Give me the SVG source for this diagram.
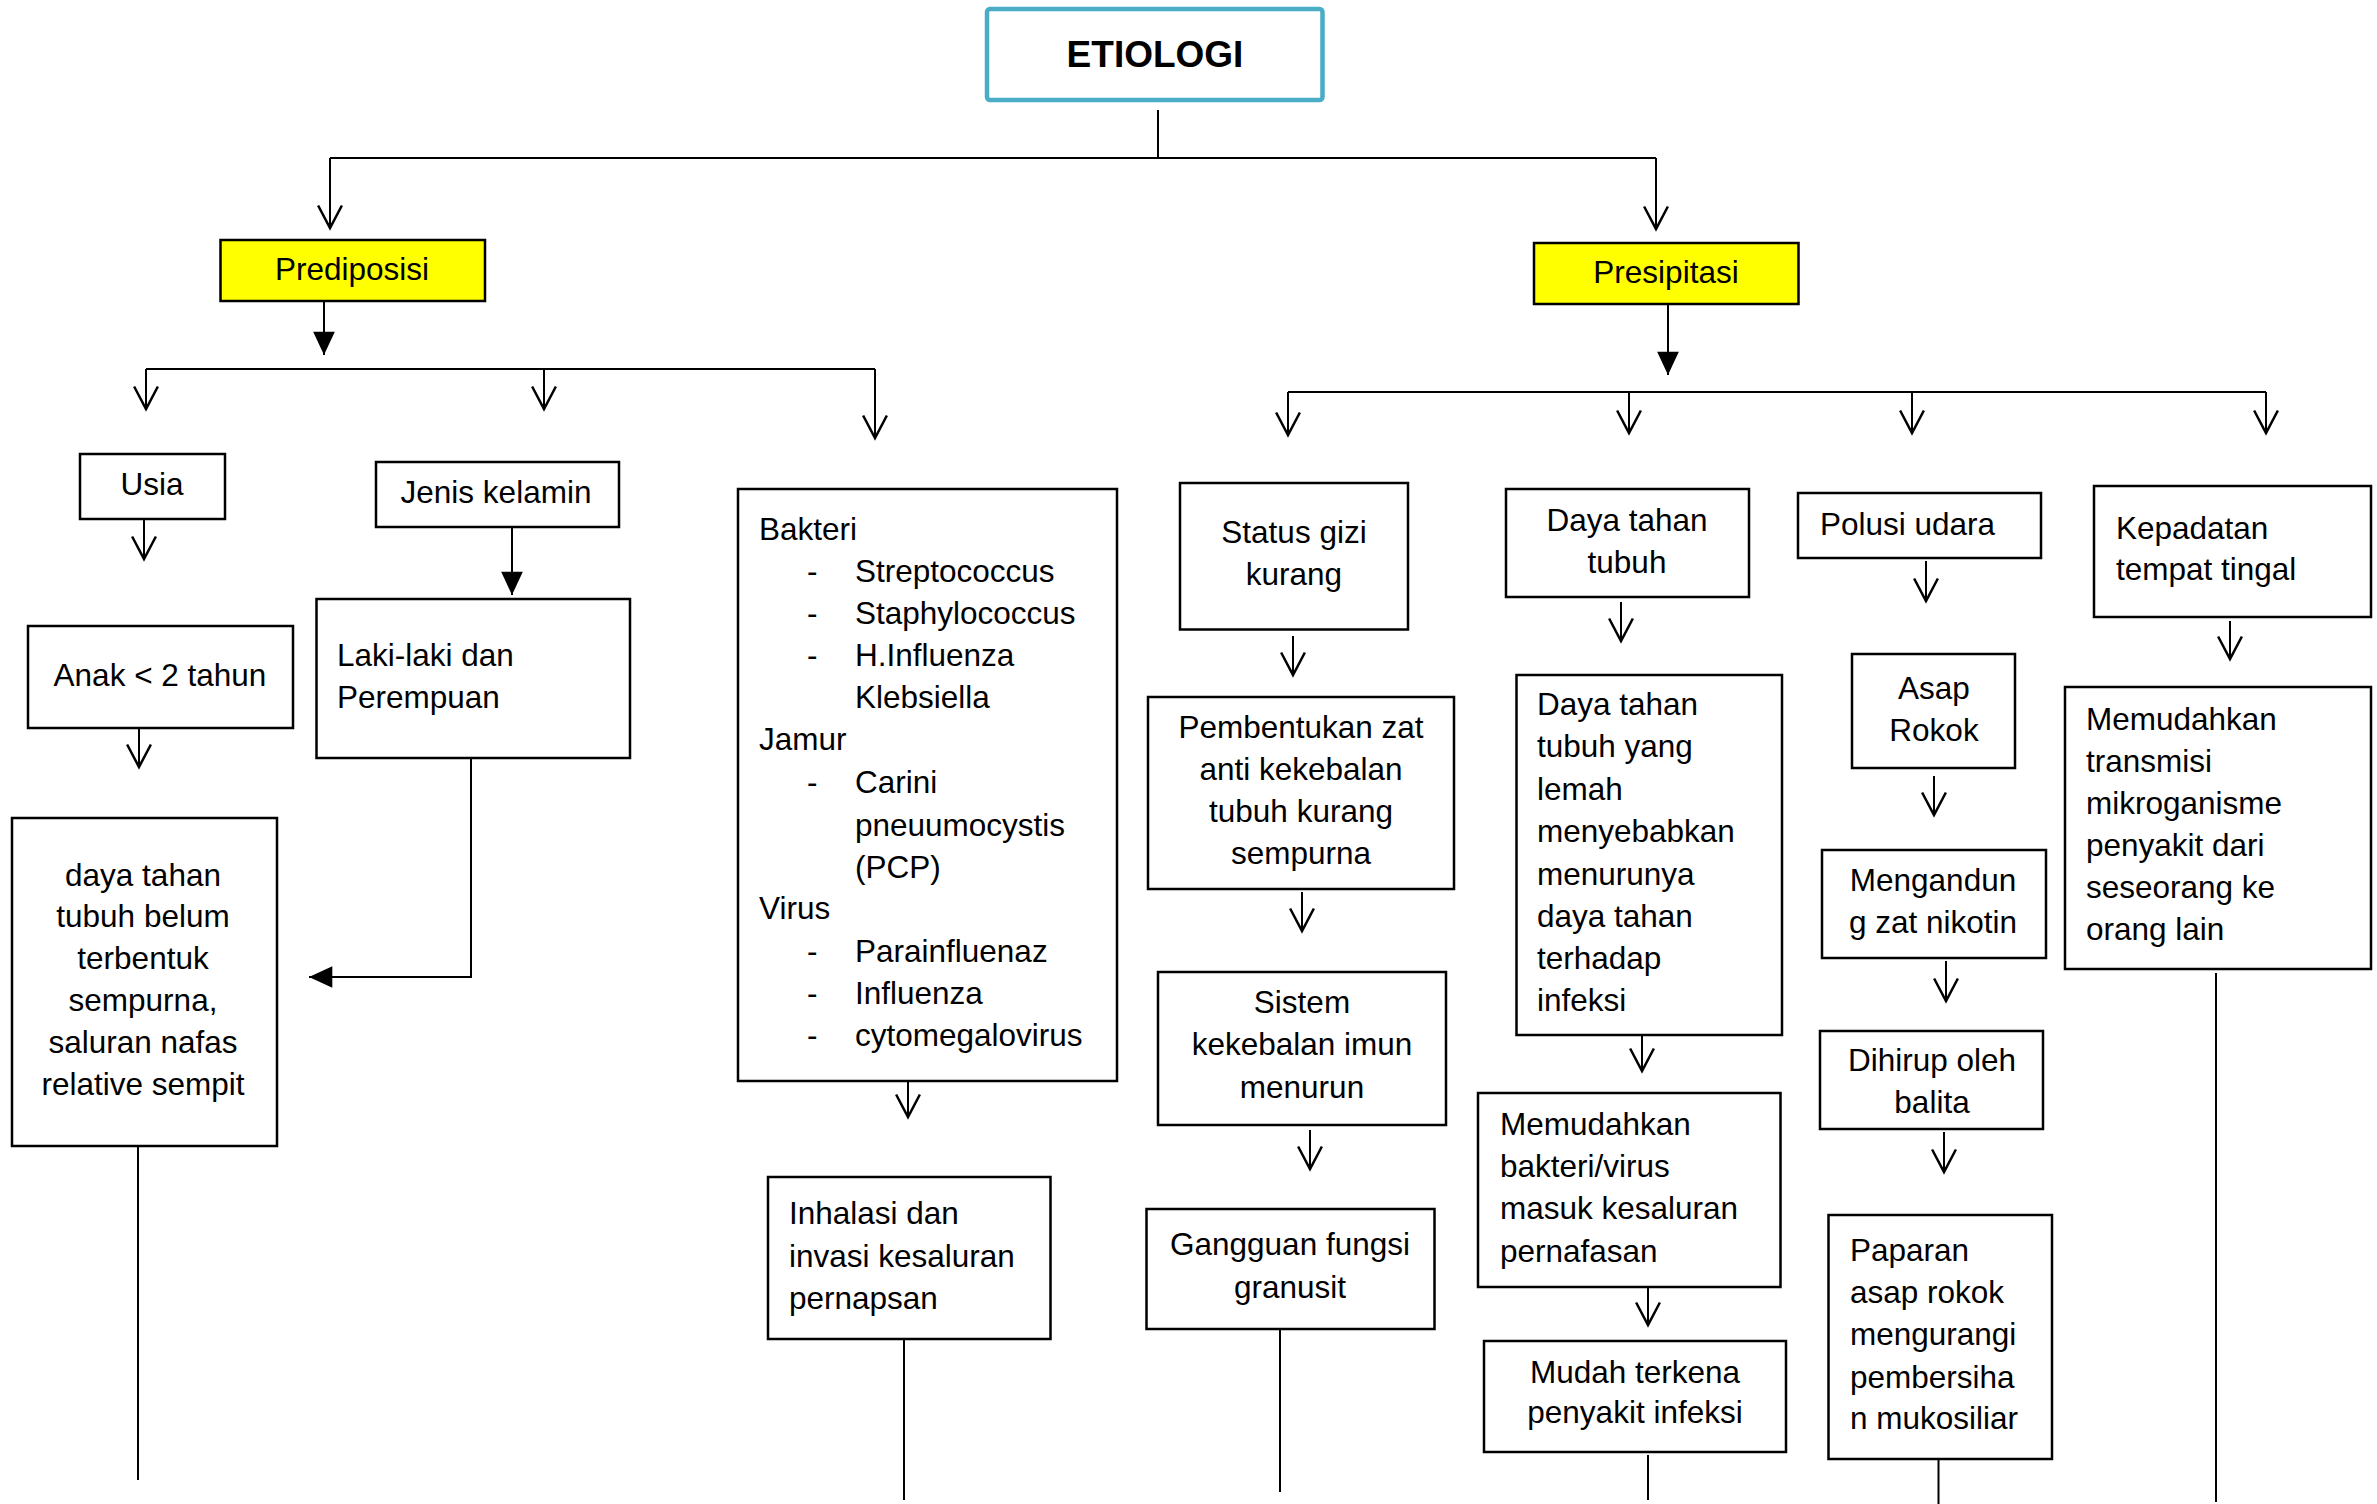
<svg xmlns="http://www.w3.org/2000/svg" width="2377" height="1504" viewBox="0 0 2377 1504">
<style>
.box{fill:#ffffff;stroke:#000000;stroke-width:2.5}
.yel{fill:#ffff00;stroke:#000000;stroke-width:2.5}
.top{fill:#ffffff;stroke:#4bacc6;stroke-width:4.5}
text{font-family:"Liberation Sans",Arial,sans-serif;font-size:31.5px;fill:#000000}
.c{text-anchor:middle}
.b{font-weight:bold;font-size:37px}
.ln{fill:none;stroke:#000000;stroke-width:2}
.oa{marker-end:url(#open)}
.fa{marker-end:url(#fill)}
</style>
<defs>
<marker id="open" markerUnits="userSpaceOnUse" orient="auto" refX="0" refY="0" markerWidth="30" markerHeight="30" viewBox="-20 -12 22 24" overflow="visible">
<path d="M-18,-9.5 L0,0 L-18,9.5" fill="none" stroke="#000000" stroke-width="2"/>
</marker>
<marker id="fill" markerUnits="userSpaceOnUse" orient="auto" refX="0" refY="0" markerWidth="30" markerHeight="30" viewBox="-16 -9 17 18" overflow="visible">
<path d="M-14,-6.5 L0,0 L-14,6.5 Z" fill="#000000"/>
</marker>
</defs>
<g id="connectors">
<path class="ln" d="M1158,110 V158"/>
<path class="ln" d="M330,158 H1656"/>
<path class="ln oa" d="M330,158 V228"/>
<path class="ln oa" d="M1656,158 V229"/>
<path class="ln fa" d="M324,299 V355"/>
<path class="ln fa" d="M1668,304 V375"/>
<path class="ln" d="M146,369 H875"/>
<path class="ln oa" d="M146,369 V409"/>
<path class="ln oa" d="M544,369 V409"/>
<path class="ln oa" d="M875,369 V438"/>
<path class="ln oa" d="M144,519 V559"/>
<path class="ln fa" d="M512,527 V595"/>
<path class="ln oa" d="M139,728 V767"/>
<path class="ln fa" d="M471,758 V977 H309"/>
<path class="ln" d="M138,1146 V1480"/>
<path class="ln oa" d="M908,1081 V1117"/>
<path class="ln" d="M904,1339 V1500"/>
<path class="ln" d="M1288,392 H2266"/>
<path class="ln oa" d="M1288,392 V435"/>
<path class="ln oa" d="M1629,392 V433"/>
<path class="ln oa" d="M1912,392 V433"/>
<path class="ln oa" d="M2266,392 V433"/>
<path class="ln oa" d="M1293,636 V675"/>
<path class="ln oa" d="M1302,892 V931"/>
<path class="ln oa" d="M1310,1130 V1169"/>
<path class="ln" d="M1280,1329 V1492"/>
<path class="ln oa" d="M1621,602 V641"/>
<path class="ln oa" d="M1642,1031 V1071"/>
<path class="ln oa" d="M1648,1287 V1325"/>
<path class="ln" d="M1648,1455 V1500"/>
<path class="ln oa" d="M1926,561 V601"/>
<path class="ln oa" d="M1934,776 V815"/>
<path class="ln oa" d="M1946,961 V1001"/>
<path class="ln oa" d="M1944,1132 V1172"/>
<path class="ln" d="M1938.5,1459 V1504"/>
<path class="ln oa" d="M2230,621 V659"/>
<path class="ln" d="M2216,973 V1502"/>
</g>
<g id="etiologi">
<rect class="top" x="987" y="9" width="335.5" height="91" rx="3"/>
<text class="c b" x="1155" y="67">ETIOLOGI</text>
</g>
<g id="prediposisi">
<rect class="yel" x="220.5" y="240" width="264.5" height="61"/>
<text class="c" x="352" y="280">Prediposisi</text>
</g>
<g id="presipitasi">
<rect class="yel" x="1534" y="243" width="264.5" height="61"/>
<text class="c" x="1666" y="283">Presipitasi</text>
</g>
<g id="usia">
<rect class="box" x="80" y="454" width="145" height="65"/>
<text class="c" x="152" y="495">Usia</text>
</g>
<g id="jenis-kelamin">
<rect class="box" x="376" y="462" width="243" height="65"/>
<text class="c" x="496" y="502.5">Jenis kelamin</text>
</g>
<g id="anak">
<rect class="box" x="28" y="626" width="265" height="102"/>
<text class="c" x="160" y="686">Anak &lt; 2 tahun</text>
</g>
<g id="laki-laki">
<rect class="box" x="316.5" y="599" width="313.5" height="159"/>
<text x="337" y="666">Laki-laki dan</text>
<text x="337" y="708">Perempuan</text>
</g>
<g id="daya-tahan-belum">
<rect class="box" x="12" y="818" width="265" height="328"/>
<text class="c" x="143" y="886">daya tahan</text>
<text class="c" x="143" y="927">tubuh belum</text>
<text class="c" x="143" y="969">terbentuk</text>
<text class="c" x="143" y="1011">sempurna,</text>
<text class="c" x="143" y="1053">saluran nafas</text>
<text class="c" x="143" y="1095">relative sempit</text>
</g>
<g id="bakteri">
<rect class="box" x="738" y="489" width="379" height="592"/>
<text x="759" y="540">Bakteri</text>
<text x="807" y="582">-</text><text x="855" y="582">Streptococcus</text>
<text x="807" y="624">-</text><text x="855" y="624">Staphylococcus</text>
<text x="807" y="666">-</text><text x="855" y="666">H.Influenza</text>
<text x="855" y="708">Klebsiella</text>
<text x="759" y="750">Jamur</text>
<text x="807" y="793">-</text><text x="855" y="793">Carini</text>
<text x="855" y="836">pneuumocystis</text>
<text x="855" y="878">(PCP)</text>
<text x="759" y="919">Virus</text>
<text x="807" y="962">-</text><text x="855" y="962">Parainfluenaz</text>
<text x="807" y="1004">-</text><text x="855" y="1004">Influenza</text>
<text x="807" y="1046">-</text><text x="855" y="1046">cytomegalovirus</text>
</g>
<g id="inhalasi">
<rect class="box" x="768" y="1177" width="282.5" height="162"/>
<text x="789" y="1224">Inhalasi dan</text>
<text x="789" y="1267">invasi kesaluran</text>
<text x="789" y="1309">pernapsan</text>
</g>
<g id="status-gizi">
<rect class="box" x="1180" y="483" width="228" height="146.5"/>
<text class="c" x="1294" y="543">Status gizi</text>
<text class="c" x="1294" y="585">kurang</text>
</g>
<g id="pembentukan">
<rect class="box" x="1148" y="697" width="306" height="192"/>
<text class="c" x="1301" y="738">Pembentukan zat</text>
<text class="c" x="1301" y="780">anti kekebalan</text>
<text class="c" x="1301" y="822">tubuh kurang</text>
<text class="c" x="1301" y="864">sempurna</text>
</g>
<g id="sistem">
<rect class="box" x="1158" y="972" width="288" height="153"/>
<text class="c" x="1302" y="1013">Sistem</text>
<text class="c" x="1302" y="1055">kekebalan imun</text>
<text class="c" x="1302" y="1098">menurun</text>
</g>
<g id="gangguan">
<rect class="box" x="1146.5" y="1209" width="288" height="120"/>
<text class="c" x="1290" y="1255">Gangguan fungsi</text>
<text class="c" x="1290" y="1298">granusit</text>
</g>
<g id="daya-tahan-tubuh">
<rect class="box" x="1506" y="489" width="243" height="108"/>
<text class="c" x="1627" y="531">Daya tahan</text>
<text class="c" x="1627" y="573">tubuh</text>
</g>
<g id="daya-lemah">
<rect class="box" x="1516.5" y="675" width="265.5" height="360"/>
<text x="1537" y="715">Daya tahan</text>
<text x="1537" y="757">tubuh yang</text>
<text x="1537" y="800">lemah</text>
<text x="1537" y="842">menyebabkan</text>
<text x="1537" y="885">menurunya</text>
<text x="1537" y="927">daya tahan</text>
<text x="1537" y="969">terhadap</text>
<text x="1537" y="1011">infeksi</text>
</g>
<g id="memudahkan-bakteri">
<rect class="box" x="1478" y="1093" width="302.5" height="194"/>
<text x="1500" y="1135">Memudahkan</text>
<text x="1500" y="1177">bakteri/virus</text>
<text x="1500" y="1219">masuk kesaluran</text>
<text x="1500" y="1262">pernafasan</text>
</g>
<g id="mudah-terkena">
<rect class="box" x="1484" y="1341" width="302" height="111"/>
<text class="c" x="1635" y="1383">Mudah terkena</text>
<text class="c" x="1635" y="1423">penyakit infeksi</text>
</g>
<g id="polusi">
<rect class="box" x="1798" y="493" width="243" height="65"/>
<text x="1820" y="535">Polusi udara</text>
</g>
<g id="asap-rokok">
<rect class="box" x="1852" y="654" width="163" height="114"/>
<text class="c" x="1934" y="699">Asap</text>
<text class="c" x="1934" y="741">Rokok</text>
</g>
<g id="mengandung">
<rect class="box" x="1822" y="850" width="224" height="108"/>
<text class="c" x="1933" y="891">Mengandun</text>
<text class="c" x="1933" y="933">g zat nikotin</text>
</g>
<g id="dihirup">
<rect class="box" x="1820" y="1031" width="223" height="98"/>
<text class="c" x="1932" y="1071">Dihirup oleh</text>
<text class="c" x="1932" y="1113">balita</text>
</g>
<g id="paparan">
<rect class="box" x="1828.5" y="1215" width="223.5" height="244"/>
<text x="1850" y="1261">Paparan</text>
<text x="1850" y="1303">asap rokok</text>
<text x="1850" y="1345">mengurangi</text>
<text x="1850" y="1388">pembersiha</text>
<text x="1850" y="1429">n mukosiliar</text>
</g>
<g id="kepadatan">
<rect class="box" x="2094" y="486" width="277" height="131"/>
<text x="2116" y="538.5">Kepadatan</text>
<text x="2116" y="579.5">tempat tingal</text>
</g>
<g id="memudahkan-transmisi">
<rect class="box" x="2065" y="687" width="306" height="282"/>
<text x="2086" y="730">Memudahkan</text>
<text x="2086" y="772">transmisi</text>
<text x="2086" y="814">mikroganisme</text>
<text x="2086" y="856">penyakit dari</text>
<text x="2086" y="898">seseorang ke</text>
<text x="2086" y="940">orang lain</text>
</g>
</svg>
